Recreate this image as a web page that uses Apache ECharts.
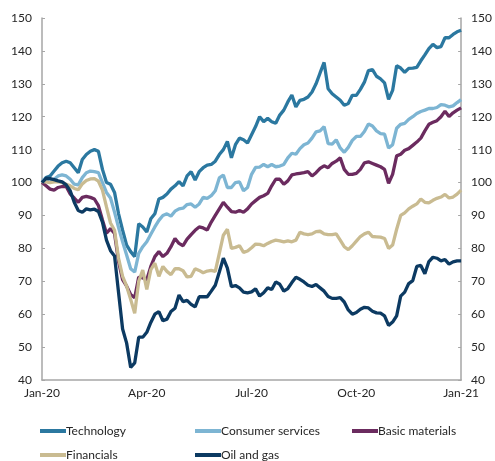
<!DOCTYPE html>
<html>
<head>
<meta charset="utf-8">
<script src="https://cdn.jsdelivr.net/npm/echarts@6/dist/echarts.min.js"></script>
<style>
html, body { margin: 0; padding: 0; background: #fff; }
#main { width: 495px; height: 461px; }
</style>
</head>
<body>
<div id="main"></div>
<script>
// x ticks: one label every 26 points (quarterly)
var tickLabels = ['Jan-20', 'Apr-20', 'Jul-20', 'Oct-20', 'Jan-21'];
var tickStep = 26;

var technology = [100, 101.5, 102, 103.5, 105, 106, 106.5, 106, 104.5, 103, 107, 108.5, 109.5, 110, 109.5, 104, 100, 99.5, 97, 90.5,
	85.5, 81, 79, 77.5, 87.5, 86.5, 85, 89, 90.5, 95, 95.5, 96.5, 98, 99, 100.3, 99, 102, 103.3, 100.8, 103.3,
	104.5, 105.3, 105.5, 106.5, 108.5, 110, 112.5, 107.5, 111.5, 113.5, 113, 112, 114.5, 117, 120, 118.5, 119.5, 118.5, 118, 120.5,
	122, 124.5, 126.6, 123, 125, 125.3, 126, 127.5, 130, 133.3, 136.5, 128.5, 127, 126, 125, 123.5, 124, 126.5, 126.5, 128.3,
	130.5, 134, 134.3, 132.3, 131.5, 130.3, 125.3, 128, 135.5, 134.8, 133.5, 134.7, 134.8, 135, 137, 138.8, 140.7, 142, 141, 141.3,
	144, 144, 145, 145.8, 146.3];
var consumerServices = [101, 100.5, 100, 101, 102, 102.3, 102, 101, 99.5, 99.3, 101.5, 103, 103.5, 103.3, 103, 100, 97, 95.3, 91, 86.3,
	82, 78, 73.8, 72.8, 78.5, 80.5, 82, 84.3, 86.5, 88.5, 90, 90.5, 89.8, 91.3, 92, 92.2, 93.3, 93.5, 92.5, 93.5,
	95.5, 95.2, 96, 97.5, 101.4, 102.3, 98.5, 98.5, 100, 100.2, 97.5, 98.5, 102.5, 104.6, 104.7, 105.5, 104.8, 105.5, 104.8, 105,
	105.5, 107.5, 108.9, 108.6, 110.3, 111.5, 112, 113.5, 115.4, 115.7, 117, 111.8, 111.7, 113, 110.5, 109.2, 110.7, 112.8, 114, 114,
	115.5, 117.8, 117.2, 115.7, 114.9, 114.7, 110.5, 111.5, 116.5, 117.7, 118, 119.2, 120, 121, 121.6, 122, 122.5, 122.5, 122.8, 123.7,
	123.5, 123, 123.3, 124.3, 125.2];
var basicMaterials = [100, 99, 98, 97.7, 98.5, 98.8, 98.8, 96.5, 95.3, 94, 95.5, 95.8, 95.5, 95, 93, 88.6, 84.6, 86, 84.5, 76,
	70.5, 68.5, 66, 65, 71.3, 71, 70.5, 74.5, 77.5, 79, 77.5, 78.5, 80.5, 83, 81.5, 80.8, 82.8, 84.2, 85.5, 86.5,
	86.2, 85.6, 88, 90, 92, 94, 92.5, 91.2, 91, 91.5, 91, 92, 93.5, 94.5, 95.5, 96, 96.7, 99, 101, 101,
	99.5, 100.5, 102.3, 102.6, 102.8, 103, 103.3, 102, 103, 104.3, 105.1, 104.5, 105.8, 106.5, 107.5, 104, 102.5, 102.5, 102.8, 104,
	106, 106.3, 105.8, 105.3, 104.8, 104, 99.8, 102.5, 108.1, 108.6, 109.8, 110.3, 111.3, 112.3, 113.5, 115.7, 117.7, 118.3, 118.8, 120,
	121.7, 120.1, 121.2, 122, 122.7];
var financials = [100.3, 100.2, 100, 100.2, 100.3, 100, 99.5, 99, 98.2, 97.8, 99.6, 100.6, 101.1, 101.2, 100.4, 97.7, 92.6, 87.7, 85.5, 77,
	71.5, 68.5, 64.5, 60.3, 70, 73.4, 67.5, 73.5, 75.5, 71.5, 74.5, 73, 72, 73.8, 73.8, 73.2, 71.3, 71.5, 73.8, 73.3,
	72.6, 73.1, 73.3, 73, 78.5, 84, 85.8, 80, 80.3, 80.8, 78.8, 79.2, 80.2, 81.3, 81.2, 80.8, 81.5, 82.1, 82.5, 82.3,
	82, 82.3, 82, 82.5, 84.9, 84.4, 84.2, 84.4, 85.1, 85.2, 84.4, 84.2, 84.2, 84.4, 82.5, 80.5, 79.6, 80.8, 82.2, 83.6,
	84.4, 84.9, 83.6, 83.5, 83.4, 83, 80, 81, 85.8, 90, 90.8, 92, 92.8, 93.5, 95, 94, 93.8, 94.6, 95.2, 95.6,
	96.4, 95.3, 95.6, 96.5, 97.7];
var oilAndGas = [100, 101.3, 101.2, 100.9, 100.5, 100.2, 99.3, 97.5, 94, 91.5, 91, 92, 91.7, 91.9, 91.2, 88, 82.5, 79.3, 77.7, 66.5,
	55.5, 51.2, 43.8, 45.2, 53, 53, 54.5, 57.5, 60, 60.8, 58, 58.5, 60.8, 61.8, 65.8, 63.8, 64.2, 63, 62.2, 65.3,
	65.3, 65.3, 67, 68.8, 72.8, 77, 74, 68.4, 68.7, 68, 66.7, 66.5, 66.8, 67.7, 65.5, 66.5, 68, 67.5, 69.8, 69.1,
	67, 67.8, 69.6, 71.2, 70.6, 69.8, 68.8, 68.4, 69, 68, 67, 65.4, 64.8, 64.8, 65, 63.7, 61.3, 60, 60.5, 61.5,
	62.1, 61.9, 60.9, 60.4, 60.3, 59.5, 56.6, 57.6, 59.5, 65.5, 66.7, 69.3, 70.2, 74.5, 74.8, 72.3, 76, 77.3, 77, 76.2,
	76.6, 75.2, 75.9, 76.2, 76.2];

var names = ['Technology', 'Consumer services', 'Basic materials', 'Financials', 'Oil and gas'];
var colors = ['#2b78a0', '#7db5d3', '#6b2b5f', '#c9bb91', '#0c3a62'];
var values = [technology, consumerServices, basicMaterials, financials, oilAndGas];

var categories = [];
for (var i = 0; i < technology.length; i++) {
	categories.push(i);
}

var font = 'Lato, "Open Sans", sans-serif';

var series = [];
for (var s = 0; s < names.length; s++) {
	series.push({
		name : names[s],
		type : 'line',
		data : values[s],
		showSymbol : false,
		smooth : false,
		lineStyle : { width : 3.3, color : colors[s] },
		itemStyle : { color : colors[s] }
	});
}

function legendAt(name, left, top) {
	return {
		data : [ name ],
		left : left,
		top : top,
		icon : 'rect',
		itemWidth : 26,
		itemHeight : 4,
		itemGap : 0,
		padding : 0,
		textStyle : { fontFamily : font, fontSize : 12, color : '#262626', padding : [ 0, 0, 0, -5 ] }
	};
}

function yAxisDef(pos) {
	return {
		type : 'value',
		position : pos,
		min : 40,
		max : 150,
		interval : 10,
		splitLine : { show : false },
		axisLine : { show : true, lineStyle : { color : '#a6a6a6', width : 1.5 } },
		axisTick : { show : true, inside : true, length : 3, lineStyle : { color : '#a6a6a6' } },
		axisLabel : { fontFamily : font, fontSize : 12, color : '#262626', margin : 10 }
	};
}

var option = {
	backgroundColor : '#fff',
	animation : false,
	grid : { left : 42, right : 31, top : 18, bottom : 81 },
	legend : [
		legendAt('Technology', 40, 425),
		legendAt('Consumer services', 195, 425),
		legendAt('Basic materials', 352, 425),
		legendAt('Financials', 40, 449),
		legendAt('Oil and gas', 195, 449)
	],
	xAxis : [ {
		type : 'category',
		boundaryGap : false,
		data : categories,
		axisLine : { show : true, lineStyle : { color : '#a6a6a6', width : 1.5 } },
		axisTick : { show : false },
		splitLine : { show : false },
		axisLabel : {
			fontFamily : font,
			fontSize : 12,
			color : '#262626',
			margin : 7,
			interval : function(idx) { return idx % tickStep === 0; },
			formatter : function(v, idx) { return tickLabels[idx / tickStep] || ''; }
		}
	} ],
	yAxis : [ yAxisDef('left'), yAxisDef('right') ],
	series : series
};

var myChart = echarts.init(document.getElementById('main'));
myChart.setOption(option, true);
</script>
</body>
</html>
